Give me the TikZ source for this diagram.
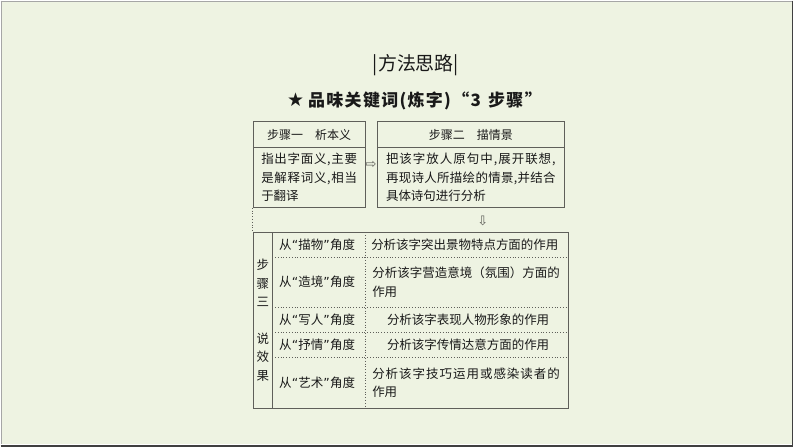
\documentclass[tikz,border=0pt]{standalone}
\usepackage{fontspec}
\newfontfamily\cjk{Noto Sans CJK SC}
\newfontfamily\sym{DejaVu Sans}
\definecolor{bgc}{RGB}{238,243,226}
\definecolor{linec}{RGB}{95,95,90}
\definecolor{txtc}{RGB}{25,25,25}
\newcommand\justline[2]{\leavevmode\hbox to #1{\jlfirst#2\relax}}
\def\jlfirst#1{#1\jlnext}
\def\jlnext#1{\ifx#1\relax\else\hfil#1\expandafter\jlnext\fi}
\newcommand\oq{{\sym“}}
\newcommand\cq{{\sym”}}
\newcommand\numsp{3\hspace{6pt}}
\tikzset{
  boxline/.style={draw=linec, line width=0.9pt},
  dotline/.style={draw=linec, line width=0.9pt, dash pattern=on 1pt off 1.8pt},
  txt/.style={font=\cjk\fontsize{12.5}{18.5}\selectfont, text=txtc, inner sep=0pt},
  arr/.style={txt, font=\sym\fontsize{13}{14}\selectfont, text=linec},
}
\begin{document}
\begin{tikzpicture}[x=1pt,y=-1pt]
  \fill[bgc] (0,0) rectangle (794,447);
  \draw[black!35] (0,0.5) -- (794,0.5) (0.5,0) -- (0.5,447);
  \draw[white] (0,444.3) -- (793,444.3);
  \draw[black!75,line width=1.5pt] (0,446.2) -- (794,446.2) (793.2,0) -- (793.2,447);
  % 标题
  \node[txt, font=\cjk\fontsize{19}{22}\selectfont] (ti) at (416,65) {|方法思路|};
  \node[txt, font=\cjk\bfseries\fontsize{17}{20}\selectfont] (sub) at (414.5,100) {{\sym\fontsize{19}{20}\selectfont★}\hspace{4pt}\justline{234pt}{品味关键词(炼字)“\numsp 步骤”}};
  % 步骤一、步骤二
  \node[txt, boxline, minimum width=112pt, minimum height=26pt, font=\cjk\fontsize{12}{14}\selectfont] (h1) at (309,134) {步骤一\quad 析本义};
  \node[txt, boxline, text width=96pt, inner xsep=8pt, minimum height=60pt, align=left] (b1) at (309,177) {\justline{96pt}{指出字面义,主要}\\\justline{96pt}{是解释词义,相当}\\于翻译};
  \node[txt, boxline, minimum width=188pt, minimum height=26pt, font=\cjk\fontsize{12}{14}\selectfont] (h2) at (471,134) {步骤二\quad 描情景};
  \node[txt, boxline, text width=170pt, inner xsep=9pt, minimum height=60pt, align=left] (b2) at (471,177) {\justline{170pt}{把该字放人原句中,展开联想,}\\\justline{170pt}{再现诗人所描绘的情景,并结合}\\具体诗句进行分析};
  \node[arr] (ar1) at (371,164) {⇨};
  \node[arr] (ar2) at (483,221) {⇩};
  % 步骤三 表格
  \node[boxline, minimum width=316pt, minimum height=176pt, inner sep=0pt] (tab) at (411,320) {};
  \draw[dotline] (b1.south west) -- (tab.north west);
  \draw[boxline] (272,232) -- (272,408);
  \draw[dotline] (365,232) -- (365,408);
  \foreach \y in {257,307,332,357} \draw[dotline] (272,\y) -- (569,\y);
  \node[txt, align=center] (s3a) at (262.5,283) {步\\骤\\三};
  \node[txt, align=center] (s3b) at (262.5,357) {说\\效\\果};
  \node[txt] (m1) at (317,244.5) {\justline{76pt}{从\oq 描物\cq 角度}};
  \node[txt] (m2) at (317,282) {\justline{76pt}{从\oq 造境\cq 角度}};
  \node[txt] (m3) at (317,319.5) {\justline{76pt}{从\oq 写人\cq 角度}};
  \node[txt] (m4) at (317,344.5) {\justline{76pt}{从\oq 抒情\cq 角度}};
  \node[txt] (m5) at (317,382.5) {\justline{76pt}{从\oq 艺术\cq 角度}};
  \node[txt, anchor=west] (r1) at (371,244.5) {分析该字突出景物特点方面的作用};
  \node[txt, anchor=west, align=left] (r2) at (372,282) {\justline{188pt}{分析该字营造意境（氛围）方面的}\\作用};
  \node[txt] (r3) at (466.5,319.5) {\justline{159pt}{分析该字表现人物形象的作用}};
  \node[txt] (r4) at (466.5,344.5) {\justline{159pt}{分析该字传情达意方面的作用}};
  \node[txt, anchor=west, align=left] (r5) at (372,382.5) {\justline{188pt}{分析该字技巧运用或感染读者的}\\作用};
\end{tikzpicture}
\end{document}
